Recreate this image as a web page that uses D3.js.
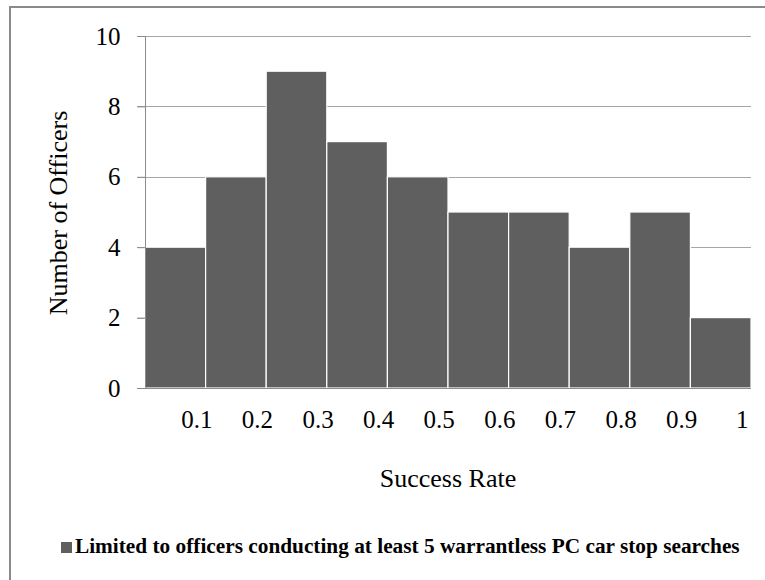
<!DOCTYPE html>
<html>
<head>
<meta charset="utf-8">
<script src="https://cdn.jsdelivr.net/npm/d3@7/dist/d3.min.js"></script>
<style>
  html, body { margin: 0; padding: 0; background: #fff; }
  svg { display: block; }
  text { font-family: "Liberation Serif", "Times New Roman", serif; fill: #000; }
</style>
</head>
<body>
<svg id="chart" width="765" height="580"></svg>
<script>
// Histogram of officer success rates
const categories = ["0.1", "0.2", "0.3", "0.4", "0.5", "0.6", "0.7", "0.8", "0.9", "1"];
const officerCounts = [4, 6, 9, 7, 6, 5, 5, 4, 5, 2];
const yTicks = [0, 2, 4, 6, 8, 10];
const yTitle = "Number of Officers";
const xTitle = "Success Rate";
const legendLabel = "Limited to officers conducting at least 5 warrantless PC car stop searches";

const svg = d3.select("#chart");
const plot = { left: 145, right: 751, top: 36, bottom: 388 };

const x = d3.scaleBand().domain(categories).range([plot.left, plot.right]).padding(0);
const y = d3.scaleLinear().domain([0, 10]).range([plot.bottom, plot.top]);

// Outer frame
svg.append("rect")
  .attr("x", 10).attr("y", 7)
  .attr("width", 800).attr("height", 600)
  .attr("fill", "none").attr("stroke", "#8a8a8a").attr("stroke-width", 2);

// Horizontal gridlines (with the small tick stub left of the axis)
svg.append("g").selectAll("line")
  .data(yTicks.filter(d => d > 0))
  .join("line")
  .attr("x1", plot.left - 8).attr("x2", plot.right)
  .attr("y1", d => Math.round(y(d)) + 0.5).attr("y2", d => Math.round(y(d)) + 0.5)
  .attr("stroke", "#a6a6a6").attr("stroke-width", 1);

// Bars
svg.append("g").selectAll("rect")
  .data(categories.map((c, i) => ({ c, v: officerCounts[i] })))
  .join("rect")
  .attr("x", d => x(d.c))
  .attr("y", d => y(d.v))
  .attr("width", x.bandwidth())
  .attr("height", d => y(0) - y(d.v))
  .attr("fill", "#5f5f5f")
  .attr("stroke", "#ffffff")
  .attr("stroke-width", 1.2);

// Y axis
const yAxis = svg.append("g")
  .attr("transform", `translate(${plot.left + 0.5},0)`)
  .call(d3.axisLeft(y).tickValues(yTicks).tickSize(8).tickPadding(17).tickFormat(d3.format("d")));
yAxis.select(".domain").attr("stroke", "#8c8c8c").attr("d", `M0,${plot.top}V${plot.bottom}`);
yAxis.selectAll(".tick line").attr("stroke", "#8c8c8c");
yAxis.selectAll(".tick text")
  .attr("font-size", 25)
  .attr("font-family", "'Liberation Serif', 'Times New Roman', serif")
  .attr("fill", "#000");

// X axis baseline
svg.append("line")
  .attr("x1", plot.left - 8).attr("x2", plot.right)
  .attr("y1", plot.bottom + 0.5).attr("y2", plot.bottom + 0.5)
  .attr("stroke", "#8c8c8c").attr("stroke-width", 1);

// X category labels
svg.append("g").selectAll("text")
  .data(categories)
  .join("text")
  .attr("x", d => x(d) + x.bandwidth() / 2 + 21.5)
  .attr("y", 428)
  .attr("text-anchor", "middle")
  .attr("font-size", 25)
  .text(d => d);

// Axis titles
svg.append("text")
  .attr("transform", `translate(67,${(plot.top + plot.bottom) / 2 + 1}) rotate(-90)`)
  .attr("text-anchor", "middle")
  .attr("font-size", 26)
  .text(yTitle);

svg.append("text")
  .attr("x", (plot.left + plot.right) / 2)
  .attr("y", 487)
  .attr("text-anchor", "middle")
  .attr("font-size", 26)
  .text(xTitle);

// Legend
svg.append("rect")
  .attr("x", 61).attr("y", 542)
  .attr("width", 11).attr("height", 11)
  .attr("fill", "#5f5f5f");
svg.append("text")
  .attr("x", 75).attr("y", 553)
  .attr("font-size", 21.3)
  .attr("font-weight", "bold")
  .text(legendLabel);
</script>
</body>
</html>
